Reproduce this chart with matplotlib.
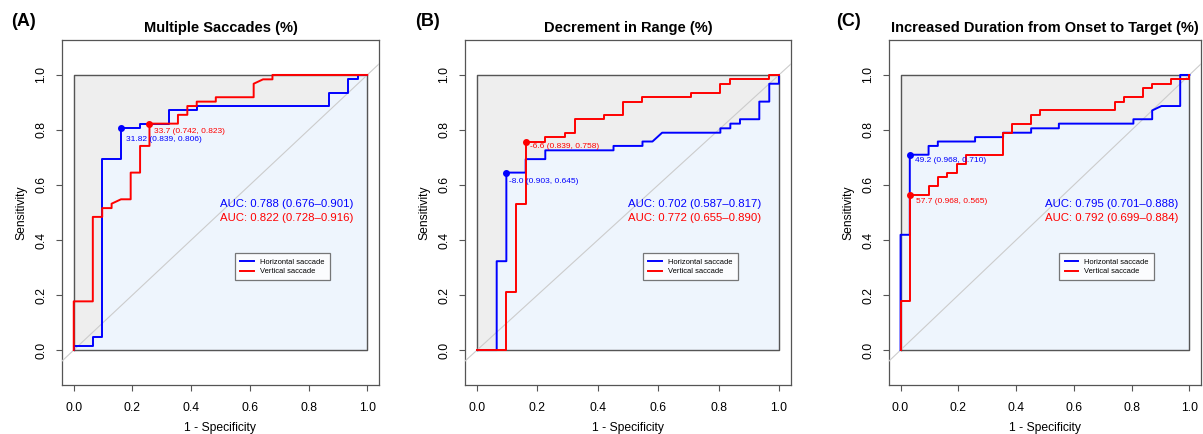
import matplotlib
matplotlib.use('Agg')
import matplotlib.pyplot as plt

plt.rcParams['font.family'] = ['Liberation Sans', 'DejaVu Sans']

# ---- data (1 - specificity, sensitivity) ----
panel_tags = ['(A)', '(B)', '(C)']
titles = ['Multiple Saccades (%)', 'Decrement in Range (%)',
          'Increased Duration from Onset to Target (%)']
series_names = ['Horizontal saccade', 'Vertical saccade']

a_h_fpr = [0, 0, 0.065, 0.065, 0.097, 0.097, 0.161, 0.161, 0.226, 0.226, 0.323, 0.323,
           0.419, 0.419, 0.871, 0.871, 0.935, 0.935, 0.968, 0.968, 1.0]
a_h_tpr = [0, 0.016, 0.016, 0.048, 0.048, 0.694, 0.694, 0.806, 0.806, 0.823, 0.823, 0.871,
           0.871, 0.887, 0.887, 0.935, 0.935, 0.984, 0.984, 1.0, 1.0]
a_v_fpr = [0, 0, 0.065, 0.065, 0.097, 0.097, 0.129, 0.129, 0.161, 0.194, 0.194, 0.226, 0.226,
           0.258, 0.258, 0.355, 0.355, 0.387, 0.387, 0.419, 0.419, 0.484, 0.484, 0.613, 0.613,
           0.645, 0.677, 0.677, 1.0]
a_v_tpr = [0, 0.177, 0.177, 0.484, 0.484, 0.516, 0.516, 0.532, 0.548, 0.548, 0.645, 0.645, 0.742,
           0.742, 0.823, 0.823, 0.855, 0.855, 0.887, 0.887, 0.903, 0.903, 0.919, 0.919, 0.968,
           0.984, 0.984, 1.0, 1.0]

b_h_fpr = [0, 0.065, 0.065, 0.097, 0.097, 0.161, 0.161, 0.226, 0.226, 0.452, 0.452, 0.548, 0.548,
           0.581, 0.613, 0.806, 0.806, 0.839, 0.839, 0.871, 0.871, 0.935, 0.935, 0.968, 0.968,
           1.0, 1.0]
b_h_tpr = [0, 0, 0.323, 0.323, 0.645, 0.645, 0.694, 0.694, 0.726, 0.726, 0.742, 0.742, 0.758,
           0.758, 0.790, 0.790, 0.806, 0.806, 0.823, 0.823, 0.839, 0.839, 0.903, 0.903, 0.968,
           0.968, 1.0]
b_v_fpr = [0, 0.097, 0.097, 0.129, 0.129, 0.161, 0.161, 0.226, 0.226, 0.290, 0.290, 0.323, 0.323,
           0.419, 0.419, 0.484, 0.484, 0.548, 0.548, 0.710, 0.710, 0.806, 0.806, 0.839, 0.839,
           0.968, 0.968, 1.0]
b_v_tpr = [0, 0, 0.210, 0.210, 0.532, 0.532, 0.758, 0.758, 0.774, 0.774, 0.790, 0.790, 0.839,
           0.839, 0.855, 0.855, 0.903, 0.903, 0.919, 0.919, 0.935, 0.935, 0.968, 0.968, 0.984,
           0.984, 1.0, 1.0]

c_h_fpr = [0, 0, 0.032, 0.032, 0.097, 0.097, 0.129, 0.129, 0.258, 0.258, 0.355, 0.355, 0.452,
           0.452, 0.548, 0.548, 0.806, 0.806, 0.871, 0.871, 0.903, 0.968, 0.968, 1.0]
c_h_tpr = [0, 0.419, 0.419, 0.710, 0.710, 0.742, 0.742, 0.758, 0.758, 0.774, 0.774, 0.790, 0.790,
           0.806, 0.806, 0.823, 0.823, 0.839, 0.839, 0.871, 0.887, 0.887, 1.0, 1.0]
c_v_fpr = [0, 0, 0.032, 0.032, 0.097, 0.097, 0.129, 0.129, 0.161, 0.161, 0.194, 0.194, 0.226,
           0.226, 0.355, 0.355, 0.387, 0.387, 0.452, 0.452, 0.484, 0.484, 0.742, 0.742, 0.774,
           0.774, 0.839, 0.839, 0.871, 0.871, 0.935, 0.935, 1.0, 1.0]
c_v_tpr = [0, 0.177, 0.177, 0.565, 0.565, 0.597, 0.597, 0.629, 0.629, 0.645, 0.645, 0.677, 0.677,
           0.710, 0.710, 0.790, 0.790, 0.823, 0.823, 0.855, 0.855, 0.871, 0.871, 0.903, 0.903,
           0.919, 0.919, 0.952, 0.952, 0.968, 0.968, 0.984, 0.984, 1.0]

# best thresholds: (1 - spec, sens) and label
a_cut = [(0.161, 0.806, '31.82 (0.839, 0.806)'), (0.258, 0.823, '33.7 (0.742, 0.823)')]
b_cut = [(0.097, 0.645, '-8.0 (0.903, 0.645)'), (0.161, 0.758, '-6.6 (0.839, 0.758)')]
c_cut = [(0.032, 0.710, '49.2 (0.968, 0.710)'), (0.032, 0.565, '57.7 (0.968, 0.565)')]

a_auc = ['AUC: 0.788 (0.676\u20130.901)', 'AUC: 0.822 (0.728\u20130.916)']
b_auc = ['AUC: 0.702 (0.587\u20130.817)', 'AUC: 0.772 (0.655\u20130.890)']
c_auc = ['AUC: 0.795 (0.701\u20130.888)', 'AUC: 0.792 (0.699\u20130.884)']

panels = [
    (a_h_fpr, a_h_tpr, a_v_fpr, a_v_tpr, a_cut, a_auc),
    (b_h_fpr, b_h_tpr, b_v_fpr, b_v_tpr, b_cut, b_auc),
    (c_h_fpr, c_h_tpr, c_v_fpr, c_v_tpr, c_cut, c_auc),
]

# label offsets (points) for the threshold texts, per panel
cut_offsets = [[(3.6, -8.4), (3.6, -5.8)],
               [(2.2, -6.7), (2.9, -3.4)],
               [(3.6, -4.1), (4.3, -5.0)]]

W, H = 1203, 434
fig = plt.figure(figsize=(W / 100, H / 100), dpi=100)
boxes = [(62, 379), (465, 791), (889, 1201)]
top, bottom = 40, 385
colors = ['#0000FF', '#FF0000']
frame_col = '#555555'

for i, (hx, hy, vx, vy, cuts, aucs) in enumerate(panels):
    x0, x1 = boxes[i]
    ax = fig.add_axes([x0 / W, (H - bottom) / H, (x1 - x0) / W, (bottom - top) / H])
    ax.set_xlim(-0.04, 1.04)
    ax.set_ylim(-0.127, 1.127)

    # max AUC area and AUC polygon of the first curve
    ax.fill([0, 1, 1, 0], [0, 0, 1, 1], color='#EEEEEE', zorder=1)
    ax.fill(list(hx) + [1, 0], list(hy) + [0, 0], color='#EEF5FD', zorder=2)
    ax.plot([0, 1, 1, 0, 0], [0, 0, 1, 1, 0], color='#555555', lw=1.0, zorder=2.5)
    ax.axline((0, 0), (1, 1), color='#CCCCCC', lw=0.8, zorder=3)

    ax.plot(hx, hy, color=colors[0], lw=1.4, zorder=4, label=series_names[0])
    ax.plot(vx, vy, color=colors[1], lw=1.4, zorder=5, label=series_names[1])

    for k, (cx, cy, lab) in enumerate(cuts):
        ax.plot(cx, cy, 'o', color=colors[k], ms=4, zorder=6)
        ax.annotate(lab, (cx, cy), xytext=cut_offsets[i][k], textcoords='offset points',
                    ha='left', va='center', fontsize=6, color=colors[k], zorder=7)

    ax.text(0.5, 0.53, aucs[0], color=colors[0], fontsize=8.2, ha='left', va='center', zorder=7)
    ax.text(0.5, 0.48, aucs[1], color=colors[1], fontsize=8.2, ha='left', va='center', zorder=7)

    leg = ax.legend(loc='upper left', bbox_to_anchor=(0.55, 0.352), bbox_transform=ax.transData,
                    fontsize=5.4, frameon=True, fancybox=False, edgecolor=frame_col,
                    handlelength=1.8, handletextpad=0.8, labelspacing=0.3,
                    borderpad=0.7, borderaxespad=0)
    leg.get_frame().set_linewidth(0.9)

    ax.set_xticks([0, 0.2, 0.4, 0.6, 0.8, 1.0])
    ax.set_yticks([0, 0.2, 0.4, 0.6, 0.8, 1.0])
    ax.set_xticklabels(['0.0', '0.2', '0.4', '0.6', '0.8', '1.0'])
    ax.set_yticklabels(['0.0', '0.2', '0.4', '0.6', '0.8', '1.0'], rotation=90, va='center')
    ax.tick_params(direction='out', length=4.5, width=0.8, color=frame_col, labelsize=8.7)
    ax.tick_params(axis='x', pad=7.5)
    ax.tick_params(axis='y', pad=6)
    for s in ax.spines.values():
        s.set_color(frame_col)
        s.set_linewidth(0.9)
    ax.set_xlabel('1 - Specificity', fontsize=8.7, labelpad=6)
    ax.set_ylabel('Sensitivity', fontsize=8.7, labelpad=6)
    ax.set_title(titles[i], fontsize=10.5, fontweight='bold', pad=6)
    fig.text(boxes[i][0] / W - [0.032, 0.0315, 0.0335][i], 1 - 22 / H, panel_tags[i],
             fontsize=13, fontweight='bold', ha='center', va='center')

fig.savefig('out.png', dpi=100)
